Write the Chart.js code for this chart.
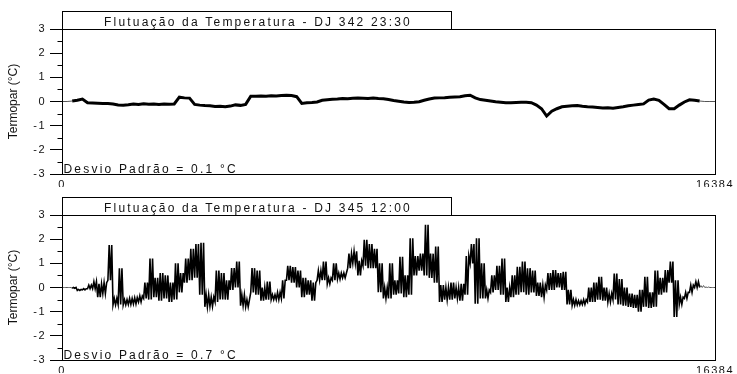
<!DOCTYPE html>
<html>
<head>
<meta charset="utf-8">
<script src="https://cdn.jsdelivr.net/npm/chart.js@4/dist/chart.umd.min.js"></script>
<style>
  html, body { margin: 0; padding: 0; background: #fff; }
  #wrap { position: relative; width: 737px; height: 374px; overflow: hidden; }
  canvas { position: absolute; left: 0; }
</style>
</head>
<body>
<div id="wrap">
  <canvas id="c342" width="737" height="187" style="top:0"></canvas>
  <canvas id="c345" width="737" height="187" style="top:186px"></canvas>
</div>
<script>
// Thermocouple record: 16384 samples, one stored reading every 128 samples
const sampleCount = 16384;
const knotStep = 128;
const xTickLabels = [0, 16384];
const yMin = -3;
const yMax = 3;
const yAxisTitle = 'Termopar (°C)';

// DJ 342 at 23:30 (°C)
const dj342Title = 'Flutuação da Temperatura - DJ 342 23:30';
const dj342Stats = 'Desvio Padrão = 0.1 °C';
const dj342 = [
  0, 0, 0.02, 0.05, 0.1, -0.05, -0.06, -0.07, -0.08, -0.08,
  -0.1, -0.14, -0.15, -0.13, -0.1, -0.12, -0.09, -0.11, -0.1, -0.12,
  -0.1, -0.11, -0.1, 0.18, 0.15, 0.14, -0.12, -0.15, -0.17, -0.18,
  -0.21, -0.2, -0.22, -0.19, -0.14, -0.16, -0.12, 0.22, 0.22, 0.23,
  0.22, 0.24, 0.23, 0.25, 0.26, 0.25, 0.2, -0.08, -0.05, -0.04,
  -0.02, 0.05, 0.07, 0.09, 0.1, 0.12, 0.11, 0.13, 0.14, 0.13,
  0.12, 0.14, 0.12, 0.11, 0.08, 0.04, 0.01, -0.02, -0.04, -0.03,
  -0.01, 0.05, 0.1, 0.14, 0.15, 0.16, 0.18, 0.19, 0.2, 0.24,
  0.26, 0.15, 0.08, 0.05, 0.02, -0.01, -0.03, -0.05, -0.05, -0.04,
  -0.03, -0.03, -0.05, -0.15, -0.3, -0.6, -0.4, -0.3, -0.22, -0.2,
  -0.18, -0.17, -0.2, -0.22, -0.23, -0.25, -0.27, -0.26, -0.28, -0.25,
  -0.22, -0.18, -0.15, -0.12, -0.1, 0.06, 0.1, 0.05, -0.12, -0.3,
  -0.3, -0.15, -0.02, 0.07, 0.05, 0.02, 0, 0, 0
];

// DJ 345 at 12:00 (°C): lowest and highest reading in each 128-sample block
const dj345Title = 'Flutuação da Temperatura - DJ 345 12:00';
const dj345Stats = 'Desvio Padrão = 0.7 °C';
const dj345Low = [
  0, 0, -0.03, -0.12, -0.1, -0.05, -0.05, -0.4, -0.25, 0.3,
  -0.72, -0.7, -0.72, -0.7, -0.68, -0.6, -0.45, -0.5, -0.4, -0.55,
  -0.45, -0.6, -0.5, -0.2, 0.2, 0.3, 0.4, -0.3, -0.8, -0.78,
  -0.6, -0.5, -0.5, -0.1, 0, -0.75, -0.8, -0.2, -0.3, -0.55,
  -0.5, -0.5, -0.5, -0.45, 0.3, 0.2, 0, -0.4, -0.3, -0.55,
  0.3, 0.3, 0.15, 0.3, 0.35, 0.4, 0.8, 1.0, 0.5, 0.9,
  0.8, 0.8, -0.2, -0.45, -0.45, -0.3, -0.25, -0.4, -0.3, 0.5,
  0.7, 0.5, 0.4, 0.2, -0.6, -0.5, -0.5, -0.45, -0.55, -0.3,
  1.0, -0.67, -0.45, -0.45, -0.2, -0.1, -0.3, -0.6, -0.4, -0.3,
  -0.2, -0.3, -0.2, -0.35, -0.4, -0.1, -0.1, 0, -0.1, -0.7,
  -0.74, -0.72, -0.7, -0.6, -0.6, -0.5, -0.55, -0.6, -0.5, -0.7,
  -0.75, -0.8, -0.85, -1.0, -0.8, -0.85, -0.8, -0.3, -0.2, 0.2,
  -1.22, -0.7, -0.45, -0.2, 0, 0, 0, 0, 0
];
const dj345High = [
  0, 0, 0, -0.08, -0.05, 0.1, 0.24, 0.15, 0.2, 1.76,
  -0.45, 0.8, -0.5, -0.45, -0.42, -0.35, 0.2, 1.2, 0.4, 0.6,
  0.5, 0.2, 1.0, 0.6, 1.2, 1.6, 1.8, 1.85, -0.3, -0.4,
  0.7, 0.6, 0.3, 0.8, 1.07, -0.3, -0.5, 0.8, 0.7, 0,
  0.25, -0.3, -0.2, 0.3, 0.9, 0.85, 0.7, 0.4, 0.3, 0.2,
  0.7, 1.07, 0.4, 1.0, 0.6, 0.6, 1.4, 1.5, 1.1, 1.97,
  1.8, 1.6, 1.0, 0, 1.0, 0.3, 1.27, 0.5, 2.04, 1.3,
  1.4, 2.6, 1.4, 1.7, 0.1, 0, 0.2, 0, 0.15, 1.3,
  1.8, 2.04, 1.0, -0.1, 0.5, 0.9, 1.2, 0, 0.5, 0.86,
  1.07, 0.8, 0.7, 0.2, 0.1, 0.6, 0.72, 0.6, 0.65, -0.1,
  -0.5, -0.55, -0.5, 0, 0.2, 0.44, 0, -0.25, 0.58, 0.35,
  0, -0.25, -0.3, -0.1, 0.44, -0.2, 0.7, 0.4, 0.72, 1.07,
  0.3, -0.4, -0.2, 0.1, 0.24, 0.08, 0.02, 0, 0
];

// Sample ranges where the recorder sat idle at the start and end of the run
const quietHead = 256;
const quietTail = 16000;

const baseFont = 'Liberation Sans, Arial, sans-serif';

function tracePoints(values) {
  return values.map((v, i) => ({ x: i * knotStep, y: v }));
}

// Each block swings between its low and high reading twice, so the noisy
// signal reads as a solid band the way the raw samples do
function bandPoints(low, high) {
  const pts = [];
  const q = knotStep / 4;
  low.forEach((lo, i) => {
    const x0 = i * knotStep;
    pts.push({ x: x0, y: lo });
    if (i < low.length - 1) {
      pts.push({ x: x0 + q, y: high[i] });
      pts.push({ x: x0 + 2 * q, y: lo });
      pts.push({ x: x0 + 3 * q, y: high[i] });
    }
  });
  return pts;
}

const panelDecor = {
  id: 'panelDecor',
  beforeUpdate(chart) { chart.ctx.letterSpacing = '1.5px'; },
  beforeDraw(chart) { chart.ctx.letterSpacing = '1.5px'; },
  afterDraw(chart, args, opts) {
    const { ctx, chartArea: a, scales: { y } } = chart;
    const L = Math.round(a.left) + 0.5, T = Math.round(a.top) + 0.5;
    const R = Math.round(a.right) + 0.5, B = Math.round(a.bottom) + 0.5;
    ctx.save();
    ctx.strokeStyle = '#000';
    ctx.lineWidth = 1;
    ctx.strokeRect(L, T, R - L, B - T);

    // half-degree minor ticks
    ctx.beginPath();
    for (let v = yMin + 0.5; v < yMax; v += 1) {
      const py = Math.round(y.getPixelForValue(v)) + 0.5;
      ctx.moveTo(L - 5, py);
      ctx.lineTo(L, py);
    }
    ctx.stroke();

    // title box sitting on the plot frame
    const boxW = 389, boxTop = 11.5;
    ctx.fillStyle = '#fff';
    ctx.fillRect(L, boxTop, boxW, T - boxTop);
    ctx.strokeRect(L, boxTop, boxW, T - boxTop);

    ctx.fillStyle = '#111';
    ctx.font = '12px ' + baseFont;
    ctx.letterSpacing = '2.2px';
    ctx.textAlign = 'center';
    ctx.textBaseline = 'alphabetic';
    ctx.fillText(opts.title, L + boxW / 2 + 1, T - 4);

    ctx.textAlign = 'left';
    ctx.fillText(opts.stats, L + 1, B - 1.5);

    // vertical axis title
    ctx.letterSpacing = '0px';
    ctx.font = '12px ' + baseFont;
    ctx.textAlign = 'center';
    ctx.textBaseline = 'middle';
    ctx.translate(14, (a.top + a.bottom) / 2);
    ctx.rotate(-Math.PI / 2);
    ctx.fillText(yAxisTitle, 0, 0);
    ctx.restore();
  }
};

function makePanel(canvasId, points, width, title, stats) {
  const quiet = c => c.p1.parsed.x <= quietHead || c.p0.parsed.x >= quietTail;
  return new Chart(document.getElementById(canvasId), {
    type: 'line',
    data: {
      datasets: [{
        data: points,
        borderColor: '#000',
        borderWidth: width,
        pointRadius: 0,
        tension: 0,
        borderJoinStyle: 'miter',
        segment: {
          borderWidth: c => quiet(c) ? 1 : width,
          borderColor: c => quiet(c) ? '#555' : '#000'
        }
      }]
    },
    options: {
      responsive: false,
      animation: false,
      events: [],
      layout: { padding: { top: 29, right: 22, left: 0, bottom: 0 } },
      plugins: {
        legend: { display: false },
        tooltip: { enabled: false },
        panelDecor: { title, stats }
      },
      scales: {
        x: {
          type: 'linear',
          min: 0,
          max: sampleCount,
          afterBuildTicks: s => { s.ticks = xTickLabels.map(v => ({ value: v })); },
          grid: { display: false, drawTicks: false },
          border: { display: false },
          ticks: {
            padding: 4,
            color: '#111',
            maxRotation: 0,
            autoSkip: false,
            callback: v => String(v),
            font: { family: baseFont, size: 11 }
          },
          afterFit: s => { s.height = 13; s.paddingLeft = 0; s.paddingRight = 0; }
        },
        y: {
          min: yMin,
          max: yMax,
          ticks: {
            stepSize: 1,
            padding: 4,
            color: '#111',
            callback: v => String(v),
            font: { family: baseFont, size: 11 }
          },
          grid: { drawOnChartArea: false, tickLength: 12, color: '#000' },
          border: { color: '#000' },
          afterFit: s => { s.width = 62; }
        }
      }
    },
    plugins: [panelDecor]
  });
}

makePanel('c342', tracePoints(dj342), 3, dj342Title, dj342Stats);
makePanel('c345', bandPoints(dj345Low, dj345High), 1.6, dj345Title, dj345Stats);
</script>
</body>
</html>
